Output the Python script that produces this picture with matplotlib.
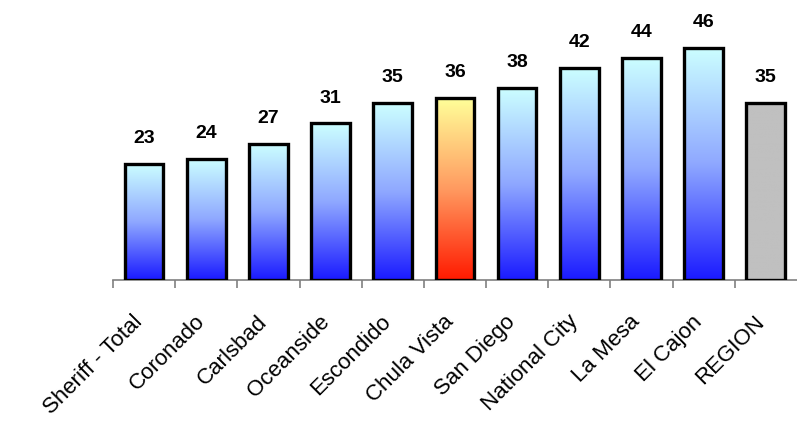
import matplotlib.pyplot as plt
import matplotlib.transforms as mtransforms
import numpy as np
from matplotlib.colors import LinearSegmentedColormap

plt.rcParams['font.family'] = ['Liberation Sans', 'DejaVu Sans']

# 数据
cities = ['Sheriff - Total', 'Coronado', 'Carlsbad', 'Oceanside', 'Escondido',
          'Chula Vista', 'San Diego', 'National City', 'La Mesa', 'El Cajon', 'REGION']
values = [23, 24, 27, 31, 35, 36, 38, 42, 44, 46, 35]

# 渐变色
blue_cmap = LinearSegmentedColormap.from_list('blue', ['#1a1aff', '#8fa8ff', '#ccffff'])
red_cmap = LinearSegmentedColormap.from_list('red', ['#ff1a00', '#ff9a60', '#ffff99'])
gray_cmap = LinearSegmentedColormap.from_list('gray', ['#c0c0c0', '#c0c0c0'])

fig = plt.figure(figsize=(7.97, 4.25), dpi=100)
ax = fig.add_axes([0.1418, 0.341, 0.858, 0.659])

index = np.arange(len(cities))
bar_width = 0.62
grad = np.linspace(0, 1, 256).reshape(-1, 1)

for i, v in enumerate(values):
    if cities[i] == 'Chula Vista':
        cmap = red_cmap
    elif cities[i] == 'REGION':
        cmap = gray_cmap
    else:
        cmap = blue_cmap
    bar = ax.bar(index[i], v, bar_width, color='none', edgecolor='black', linewidth=2.4, zorder=3)[0]
    im = ax.imshow(grad, cmap=cmap, origin='lower', aspect='auto',
                   extent=(index[i] - bar_width / 2, index[i] + bar_width / 2, 0, v), zorder=2)
    im.set_clip_path(bar)
    ax.annotate(str(v), (index[i], v), xytext=(0, 12), textcoords='offset points',
                ha='center', va='bottom', fontsize=14, fontweight='bold')

ax.set_xlim(-0.5, len(cities) - 0.5)
ax.set_ylim(0, 55.4)

# 坐标轴样式
for s in ['top', 'right', 'left']:
    ax.spines[s].set_visible(False)
ax.spines['bottom'].set_color('#808080')
ax.spines['bottom'].set_linewidth(1.2)
ax.set_yticks([])
ax.set_xticks(index)
ax.set_xticklabels(cities, rotation=45, ha='right', rotation_mode='anchor', fontsize=16)
ax.set_xticks(np.arange(len(cities)) - 0.5, minor=True)
ax.tick_params(axis='x', which='major', length=0, pad=8)
ax.tick_params(axis='x', which='minor', length=6, width=1.2, color='#808080', direction='out')

# 标签整体左下移
offset = mtransforms.ScaledTranslation(-12 / 100, -20 / 100, fig.dpi_scale_trans)
for lbl in ax.get_xticklabels():
    lbl.set_transform(lbl.get_transform() + offset)

plt.savefig('out.png', dpi=100)
